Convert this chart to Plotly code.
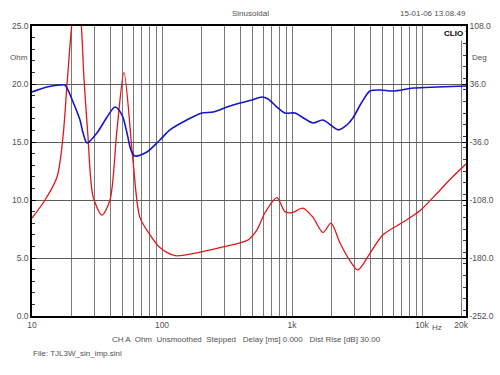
import plotly.graph_objects as go

# Impedance magnitude (Ohm) - red
imp_freq = [10, 12.6, 15.6, 17.3, 18.6, 20.3, 22, 23.8, 25.1, 26.9, 29.5, 34.5, 39.8, 45.0, 51,
            59.8, 67.6, 80.9, 96.3, 126, 196, 294, 398, 458, 536, 620, 765, 882, 1000, 1214,
            1450, 1730, 1995, 2340, 2780, 3210, 3980, 5010, 7160, 9680, 13100, 17200, 21800]
imp_ohm = [8.45, 10.0, 12.0, 15.4, 20.0, 25.3, 28.5, 25.5, 20.5, 15.6, 10.3, 8.7, 10.0, 16.0, 21.0,
           13.4, 8.5, 7.0, 5.9, 5.2, 5.5, 5.95, 6.3, 6.55, 7.4, 8.9, 10.2, 9.0, 8.9, 9.3,
           8.5, 7.2, 8.0, 6.3, 4.8, 3.97, 5.4, 7.0, 8.1, 9.1, 10.6, 12.0, 13.1]

# Impedance phase (Deg) - blue
ph_freq = [10, 13.0, 16.4, 17.9, 18.9, 20.7, 23.4, 24.7, 26.5, 31.6, 37.8, 43.5, 49.3, 53.8, 57.7,
           62, 76.6, 96.3, 115, 155, 203, 247, 316, 398, 492, 587, 655, 765, 882, 1053,
           1194, 1450, 1730, 2270, 2640, 2940, 3450, 3980, 4760, 6000, 8530, 13100, 21800]
ph_deg = [26.1, 32.3, 34.8, 34.8, 28.6, 13.6, -8.7, -24.8, -37.2, -24.8, -5.0, 7.4, -2.5, -24.8, -46.0,
          -53.4, -48.4, -33.5, -21.0, -8.7, 0.0, 1.2, 7.4, 12.4, 16.1, 19.9, 17.4, 7.4, 0.0, 0.0,
          -5.0, -12.4, -8.7, -21.0, -14.9, -6.2, 13.6, 27.3, 28.6, 27.3, 31.0, 32.3, 33.5]

x_grid = [10, 20, 30, 40, 50, 60, 70, 80, 90,
          100, 200, 300, 400, 500, 600, 700, 800, 900,
          1000, 2000, 3000, 4000, 5000, 6000, 7000, 8000, 9000,
          10000, 20000]
x_labels = {10: "10", 100: "100", 1000: "1k", 10000: "10k", 20000: "20k"}

ohm_ticks = [0, 5, 10, 15, 20, 25]
deg_ticks = [-252, -180, -108, -36, 36, 108]

TXT = "#505050"
VGRID = "#7a7a7a"
HGRID = "#5c5c5c"
FONT = "Liberation Sans, Arial, sans-serif"

fig = go.Figure()
fig.add_trace(go.Scatter(x=imp_freq, y=imp_ohm, mode="lines",
                         line=dict(color="#e01818", width=1.3, shape="spline", smoothing=0.8),
                         showlegend=False, hoverinfo="skip"))
fig.add_trace(go.Scatter(x=ph_freq, y=ph_deg, mode="lines", yaxis="y2",
                         line=dict(color="#1616c8", width=1.6, shape="spline", smoothing=0.8),
                         showlegend=False, hoverinfo="skip"))

L, R, T, B = 32, 466, 26, 316
W, H = 500, 375

def px(x):
    return (x - L) / (R - L)

def py(y):
    return (B - y) / (B - T)

fig.update_layout(
    template="none",
    width=W, height=H,
    margin=dict(l=L, r=W - R, t=T, b=H - B, pad=0, autoexpand=False),
    paper_bgcolor="white", plot_bgcolor="white",
    font=dict(family=FONT, size=8.5, color=TXT),
    xaxis=dict(type="log", range=[1, 1 + (R - L) / 130.0], automargin=False,
               tickvals=x_grid, ticktext=[x_labels.get(v, "") for v in x_grid],
               showgrid=True, gridcolor=VGRID, gridwidth=1,
               showline=True, linecolor="black", linewidth=1.5, mirror=True,
               ticks="", ticklen=0, zeroline=False, tickfont=dict(size=8.5, color=TXT)),
    yaxis=dict(range=[0, 25], tickvals=ohm_ticks, ticktext=["%.1f" % v for v in ohm_ticks],
               automargin=False,
               showgrid=True, gridcolor=HGRID, gridwidth=1, zeroline=False,
               showline=True, linecolor="black", linewidth=1.5,
               ticks="inside", ticklen=4, tickcolor="black",
               minor=dict(dtick=1, ticks="inside", ticklen=3, tickcolor="#333", showgrid=False),
               tickfont=dict(size=8.5, color=TXT)),
    yaxis2=dict(range=[-252, 108], overlaying="y", side="right", automargin=False,
                tickvals=deg_ticks, ticktext=["%.1f" % v for v in deg_ticks],
                showgrid=False, zeroline=False,
                showline=True, linecolor="black", linewidth=1.5,
                ticks="inside", ticklen=4, tickcolor="black",
                minor=dict(dtick=14.4, ticks="inside", ticklen=3, tickcolor="#333", showgrid=False),
                tickfont=dict(size=8.5, color=TXT)),
)

ann = [
    dict(text="Sinusoidal", x=px(250), y=py(14), xanchor="center"),
    dict(text="15-01-06 13.08.49", x=px(468), y=py(14), xanchor="right"),
    dict(text="Ohm", x=px(30), y=py(57), xanchor="right"),
    dict(text="Deg", x=px(470), y=py(57), xanchor="left"),
    dict(text="Hz", x=px(437), y=py(327), xanchor="center"),
    dict(text="CH A  Ohm  Unsmoothed  Stepped   Delay [ms] 0.000   Dist Rise [dB] 30.00",
         x=px(246), y=py(339), xanchor="center"),
    dict(text="File: TJL3W_sin_imp.sini", x=px(31), y=py(353), xanchor="left"),
]
for a in ann:
    fig.add_annotation(xref="paper", yref="paper", showarrow=False, yanchor="middle",
                       font=dict(size=8, color=TXT, family=FONT), **a)

fig.add_annotation(xref="paper", yref="paper", showarrow=False, text="<b>CLIO</b>",
                   x=px(453), y=py(33), xanchor="center", yanchor="middle",
                   bgcolor="white", borderpad=2,
                   font=dict(size=8, color="black", family=FONT))

fig.write_html("out.html", config={"displayModeBar": False},
               post_script="document.body.style.margin='0';document.body.style.padding='0';"
                           "document.body.style.overflow='hidden';")
